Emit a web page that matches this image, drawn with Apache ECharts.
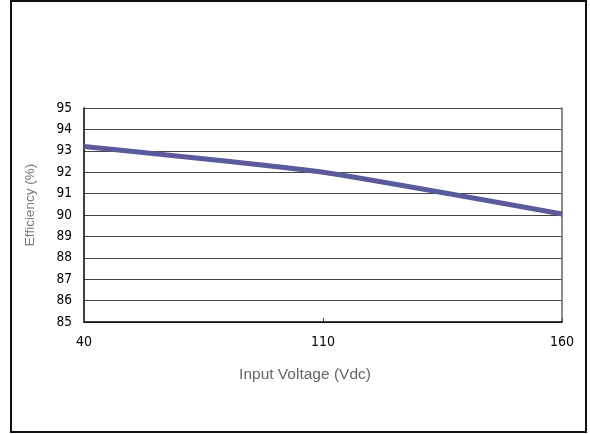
<!DOCTYPE html>
<html>
<head>
<meta charset="utf-8">
<title>Efficiency vs Input Voltage</title>
<script src="https://cdn.jsdelivr.net/npm/echarts@6/dist/echarts.min.js"></script>
<style>
  html, body { margin: 0; padding: 0; background: #fff; }
  #chart { width: 590px; height: 434px; }
</style>
</head>
<body>
<div id="chart"></div>
<script>
// data
const voltages = ["40", "110", "160"];
const efficiency = [93.2, 92.0, 90.05];

const tickFont = "'Liberation Sans Narrow', 'DejaVu Sans Condensed', Arial, sans-serif";
const titleFont = "'Liberation Sans', Arial, sans-serif";

const chart = echarts.init(document.getElementById("chart"), null, { renderer: "canvas" });

const option = {
  backgroundColor: "#fff",
  animation: false,
  grid: { left: 84, top: 108, right: 28, bottom: 112 },
  graphic: [
    {
      type: "rect",
      shape: { x: 11, y: 1, width: 575, height: 431 },
      style: { fill: "none", stroke: "#111", lineWidth: 2 }
    }
  ],
  xAxis: {
    type: "category",
    data: voltages,
    boundaryGap: false,
    name: "Input Voltage (Vdc)",
    nameLocation: "middle",
    nameGap: 45,
    nameTextStyle: { color: "#666", fontSize: 15.5, fontFamily: titleFont, padding: [0, 36, 0, 0] },
    axisLine: { lineStyle: { color: "#000", width: 1.5 } },
    axisTick: { show: true, inside: true, length: 4, lineStyle: { color: "#444" } },
    axisLabel: { color: "#000", fontSize: 14, fontFamily: tickFont, margin: 13 },
    splitLine: { show: false }
  },
  yAxis: [
    {
      type: "value",
      min: 85,
      max: 95,
      interval: 1,
      name: "Efficiency (%)",
      nameLocation: "middle",
      nameGap: 47,
      nameTextStyle: { color: "#777", fontSize: 13.5, fontFamily: titleFont, padding: [0, 0, 0, 20] },
      axisLine: { show: true, lineStyle: { color: "#000", width: 1.5 } },
      axisTick: { show: false },
      axisLabel: { color: "#000", fontSize: 13.5, fontFamily: tickFont, margin: 12 },
      splitLine: { show: true, lineStyle: { color: "#444", width: 1 } }
    },
    {
      type: "value",
      min: 85,
      max: 95,
      position: "right",
      axisLine: { show: true, lineStyle: { color: "#666", width: 1.5 } },
      axisTick: { show: false },
      axisLabel: { show: false },
      splitLine: { show: false }
    }
  ],
  series: [
    {
      type: "line",
      data: efficiency,
      smooth: 0.15,
      symbol: "none",
      lineStyle: { color: "#5a5a9c", width: 5 },
      z: 5
    }
  ]
};

chart.setOption(option);
</script>
</body>
</html>
